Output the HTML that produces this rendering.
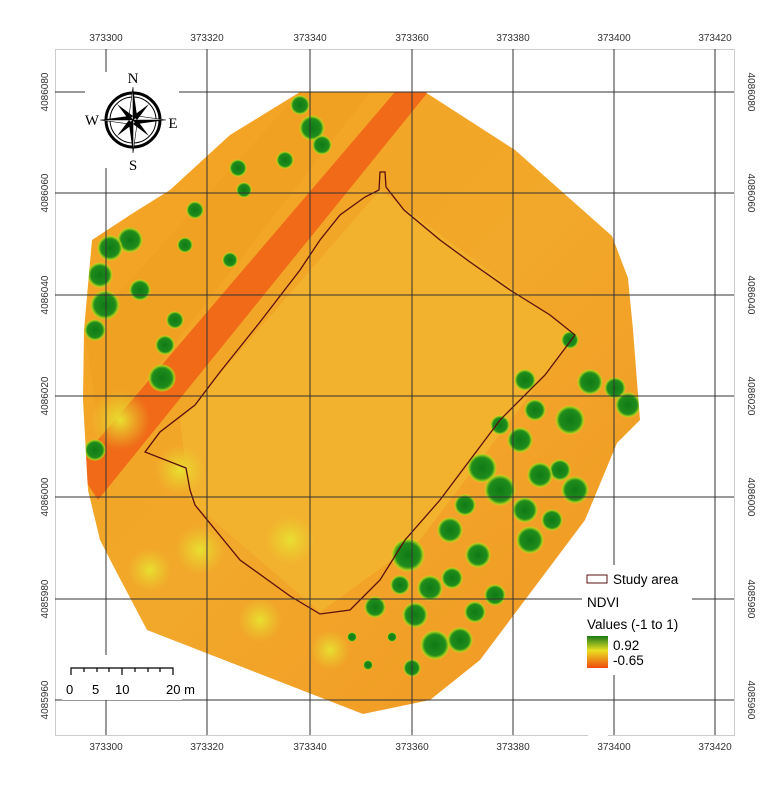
<!DOCTYPE html>
<html><head><meta charset="utf-8"><style>
body{margin:0;background:#fff;}
svg{display:block;font-family:"Liberation Sans",sans-serif;}
</style></head><body>
<svg width="774" height="788" viewBox="0 0 774 788">
<defs>
<radialGradient id="tree"><stop offset="0" stop-color="#0f7a15"/><stop offset="0.7" stop-color="#1f8c1c"/><stop offset="0.88" stop-color="#9ccc1a"/><stop offset="1" stop-color="#e8e020" stop-opacity="0"/></radialGradient>
<radialGradient id="ylw"><stop offset="0" stop-color="#e8e030"/><stop offset="1" stop-color="#e8d030" stop-opacity="0"/></radialGradient>
<linearGradient id="leg" x1="0" y1="0" x2="0" y2="1"><stop offset="0" stop-color="#1a7a1a"/><stop offset="0.45" stop-color="#e8e020"/><stop offset="1" stop-color="#f04a10"/></linearGradient>
<linearGradient id="fld" x1="0" y1="0" x2="1" y2="1"><stop offset="0" stop-color="#f4a020"/><stop offset="0.5" stop-color="#f2a82a"/><stop offset="1" stop-color="#f09020"/></linearGradient>
<clipPath id="poly"><polygon points="300,92 425,92 515,150 612,236 628,278 633,330 640,420 617,443 585,520 540,580 480,660 430,700 363,714 147,630 117,573 100,540 88,490 83,400 84,330 92,240 130,215 170,190 230,135"/></clipPath>
</defs>
<rect x="55.5" y="49.5" width="679" height="686" fill="#fff" stroke="#ccc"/>
<g clip-path="url(#poly)">
<rect x="0" y="0" width="774" height="788" fill="url(#fld)"/>
<polygon points="180,420 380,190 575,335 420,540 320,612 190,500" fill="#f3b22e"/>
<polygon points="85,330 300,92 370,92 100,440" fill="#f0a020" opacity="0.8"/>
<polygon points="395,92 428,92 98,500 85,480 85,455" fill="#f06a18"/>
<g fill="url(#ylw)">
<circle cx="200" cy="550" r="25"/><circle cx="150" cy="570" r="22"/><circle cx="290" cy="540" r="25"/><circle cx="260" cy="620" r="22"/><circle cx="120" cy="420" r="30"/><circle cx="180" cy="470" r="25"/><circle cx="330" cy="650" r="20"/>
</g>
<g fill="url(#tree)">
<circle cx="312" cy="128" r="13"/><circle cx="300" cy="105" r="10"/><circle cx="322" cy="145" r="10"/><circle cx="238" cy="168" r="9"/><circle cx="244" cy="190" r="8"/><circle cx="285" cy="160" r="9"/><circle cx="130" cy="240" r="13"/><circle cx="110" cy="248" r="13"/><circle cx="100" cy="275" r="13"/><circle cx="105" cy="305" r="15"/><circle cx="140" cy="290" r="11"/><circle cx="175" cy="320" r="9"/><circle cx="165" cy="345" r="10"/><circle cx="162" cy="378" r="14"/><circle cx="95" cy="330" r="11"/><circle cx="230" cy="260" r="8"/><circle cx="195" cy="210" r="9"/><circle cx="95" cy="450" r="11"/><circle cx="185" cy="245" r="8"/>
<circle cx="570" cy="340" r="9"/><circle cx="590" cy="382" r="13"/><circle cx="615" cy="388" r="11"/><circle cx="628" cy="405" r="13"/><circle cx="570" cy="420" r="15"/><circle cx="525" cy="380" r="11"/><circle cx="535" cy="410" r="11"/><circle cx="520" cy="440" r="13"/><circle cx="560" cy="470" r="11"/><circle cx="540" cy="475" r="13"/><circle cx="575" cy="490" r="14"/><circle cx="500" cy="425" r="10"/><circle cx="482" cy="468" r="15"/><circle cx="500" cy="490" r="16"/><circle cx="525" cy="510" r="13"/><circle cx="465" cy="505" r="11"/><circle cx="530" cy="540" r="14"/><circle cx="552" cy="520" r="11"/><circle cx="450" cy="530" r="13"/><circle cx="478" cy="555" r="13"/><circle cx="408" cy="555" r="17"/><circle cx="430" cy="588" r="13"/><circle cx="452" cy="578" r="11"/><circle cx="415" cy="615" r="13"/><circle cx="375" cy="607" r="11"/><circle cx="435" cy="645" r="15"/><circle cx="460" cy="640" r="13"/><circle cx="400" cy="585" r="10"/><circle cx="412" cy="668" r="9"/><circle cx="392" cy="637" r="5"/><circle cx="352" cy="637" r="5"/><circle cx="368" cy="665" r="5"/><circle cx="475" cy="612" r="11"/><circle cx="495" cy="595" r="11"/>
</g>
</g>
<polygon points="380,172 385,172 386,187 404,210 440,240 470,262 510,290 550,315 575,335 545,375 500,420 470,460 440,500 405,540 380,580 350,610 320,614 290,596 240,560 195,505 190,490 186,468 145,452 160,432 195,405 220,372 260,322 300,270 320,240 340,215 365,197 379,190" fill="none" stroke="#5a1010" stroke-width="1.3"/>
<g stroke="#333" stroke-width="1">
<line x1="106" y1="49" x2="106" y2="735"/><line x1="207" y1="49" x2="207" y2="735"/><line x1="310" y1="49" x2="310" y2="735"/><line x1="412" y1="49" x2="412" y2="735"/><line x1="513" y1="49" x2="513" y2="735"/><line x1="614" y1="49" x2="614" y2="735"/><line x1="715" y1="49" x2="715" y2="735"/>
<line x1="55" y1="92" x2="734" y2="92"/><line x1="55" y1="193" x2="734" y2="193"/><line x1="55" y1="295" x2="734" y2="295"/><line x1="55" y1="396" x2="734" y2="396"/><line x1="55" y1="497" x2="734" y2="497"/><line x1="55" y1="599" x2="734" y2="599"/><line x1="55" y1="700" x2="734" y2="700"/>
</g>
<rect x="85" y="72" width="94" height="96" fill="#fff"/>
<rect x="62" y="655" width="120" height="45" fill="#fff"/>
<rect x="582" y="565" width="110" height="110" fill="#fff"/>
<rect x="588" y="709" width="20" height="40" fill="#fff"/>
<g font-size="10" fill="#333" text-anchor="middle">
<text x="106" y="41">373300</text><text x="207" y="41">373320</text><text x="310" y="41">373340</text><text x="412" y="41">373360</text><text x="513" y="41">373380</text><text x="614" y="41">373400</text><text x="715" y="41">373420</text>
<text x="106" y="750">373300</text><text x="207" y="750">373320</text><text x="310" y="750">373340</text><text x="412" y="750">373360</text><text x="513" y="750">373380</text><text x="614" y="750">373400</text><text x="715" y="750">373420</text>
<text transform="translate(48,92) rotate(-90)">4086080</text><text transform="translate(48,193) rotate(-90)">4086060</text><text transform="translate(48,295) rotate(-90)">4086040</text><text transform="translate(48,396) rotate(-90)">4086020</text><text transform="translate(48,497) rotate(-90)">4086000</text><text transform="translate(48,599) rotate(-90)">4085980</text><text transform="translate(48,700) rotate(-90)">4085960</text>
<text transform="translate(748,92) rotate(90)">4086080</text><text transform="translate(748,193) rotate(90)">4086060</text><text transform="translate(748,295) rotate(90)">4086040</text><text transform="translate(748,396) rotate(90)">4086020</text><text transform="translate(748,497) rotate(90)">4086000</text><text transform="translate(748,599) rotate(90)">4085980</text><text transform="translate(748,700) rotate(90)">4085960</text>
</g>
<g transform="translate(133,120)">
<circle r="27" fill="none" stroke="#000" stroke-width="3"/><circle r="23" fill="none" stroke="#000" stroke-width="1"/>
<polygon points="0,-33 4,-4 0,0" fill="#000"/><polygon points="0,-33 -4,-4 0,0" fill="#fff" stroke="#000" stroke-width="0.6"/>
<polygon points="0,33 -4,4 0,0" fill="#000"/><polygon points="0,33 4,4 0,0" fill="#fff" stroke="#000" stroke-width="0.6"/>
<polygon points="33,0 4,4 0,0" fill="#000"/><polygon points="33,0 4,-4 0,0" fill="#fff" stroke="#000" stroke-width="0.6"/>
<polygon points="-33,0 -4,-4 0,0" fill="#000"/><polygon points="-33,0 -4,4 0,0" fill="#fff" stroke="#000" stroke-width="0.6"/>
<polygon points="16,-16 4,0 0,-4" fill="#000"/><polygon points="-16,16 -4,0 0,4" fill="#000"/><polygon points="16,16 0,4 4,0" fill="#000"/><polygon points="-16,-16 0,-4 -4,0" fill="#000"/>
<g font-family="Liberation Serif,serif" font-size="15" text-anchor="middle"><text y="-37">N</text><text y="50">S</text><text x="-41" y="5">W</text><text x="40" y="8">E</text></g>
</g>
<g stroke="#000" stroke-width="1.2" fill="none">
<path d="M71,675 V668 H173 V675"/>
<path d="M84,668v4M97,668v4M109,668v4M122,668v7M135,668v4M148,668v4M160,668v4"/>
</g>
<g font-size="13" fill="#000"><text x="66" y="694">0</text><text x="92" y="694">5</text><text x="115" y="694">10</text><text x="166" y="694">20 m</text></g>
<rect x="587" y="575" width="20" height="8" fill="#fff" stroke="#5a1010" stroke-width="1"/>
<g font-size="13.5" fill="#000" font-family="Liberation Sans,sans-serif">
<text x="613" y="584">Study area</text><text x="587" y="607">NDVI</text><text x="587" y="629">Values (-1 to 1)</text><text x="613" y="650">0.92</text><text x="613" y="665">-0.65</text>
</g>
<rect x="587" y="636" width="21" height="32" fill="url(#leg)"/>
</svg>
</body></html>
